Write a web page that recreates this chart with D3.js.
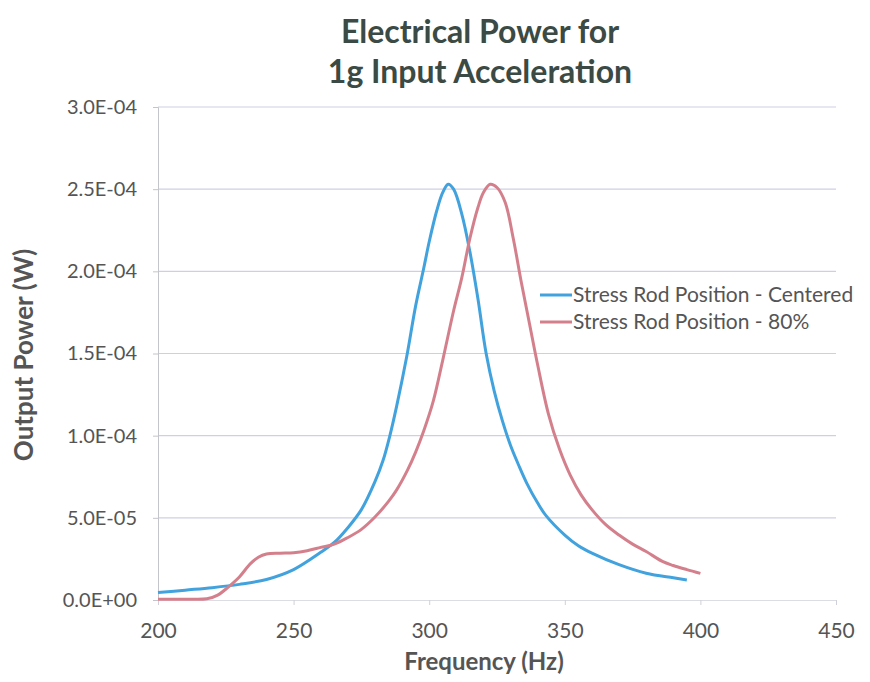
<!DOCTYPE html>
<html>
<head>
<meta charset="utf-8">
<script src="https://cdn.jsdelivr.net/npm/d3@7"></script>
<style>
  body { margin: 0; background: #fff; }
  svg { font-family: Lato, "Open Sans", sans-serif; }
</style>
</head>
<body>
<div id="chart"></div>
<script>
// values, power in units of 1e-5 W
const freqCentered = [200, 210, 220, 230, 240, 250, 260, 265, 270, 275, 280, 283, 285.5, 288, 291.7, 295, 298, 300, 302.8, 305, 307, 309, 312, 315, 318, 321, 324, 327, 330, 333, 336, 340, 343, 350, 355, 360, 370, 380, 390, 395];
const powerCentered = [0.45, 0.6, 0.75, 0.95, 1.25, 1.85, 2.9, 3.5, 4.4, 5.5, 7.2, 8.5, 10.0, 11.8, 14.8, 17.9, 20.2, 21.8, 23.7, 24.8, 25.3, 25.0, 23.5, 21.2, 18.3, 15.0, 12.7, 10.9, 9.4, 8.2, 7.1, 5.9, 5.15, 3.95, 3.3, 2.85, 2.15, 1.63, 1.35, 1.22];

const freq80 = [200, 210, 218, 222, 226, 230, 234, 237, 240, 245, 250, 255, 260, 265, 270, 275, 280, 285, 288, 292, 295, 298, 301.5, 305, 309, 312, 315, 318, 320, 322.5, 325, 328, 331, 334, 337, 340, 344, 348, 352, 356, 360, 365, 370, 375, 380, 386, 390, 395, 400];
const power80 = [0.05, 0.05, 0.07, 0.3, 0.8, 1.4, 2.2, 2.6, 2.8, 2.85, 2.88, 3.0, 3.2, 3.4, 3.8, 4.3, 5.05, 6.0, 6.7, 7.9, 9.0, 10.3, 12.1, 14.6, 17.6, 19.6, 22.0, 23.9, 24.8, 25.3, 25.1, 24.2, 22.0, 19.3, 16.8, 14.3, 11.3, 9.2, 7.6, 6.4, 5.5, 4.6, 3.95, 3.4, 2.95, 2.35, 2.1, 1.85, 1.62];

const seriesNames = ["Stress Rod Position - Centered", "Stress Rod Position - 80%"];
const seriesColors = ["#41a2dd", "#d4808c"];
const xTicks = [200, 250, 300, 350, 400, 450];
const yTicks = [0, 5e-5, 1e-4, 1.5e-4, 2e-4, 2.5e-4, 3e-4];
const yTickLabels = ["0.0E+00", "5.0E-05", "1.0E-04", "1.5E-04", "2.0E-04", "2.5E-04", "3.0E-04"];

let width = 870,
  height = 682,
  plotLeft = 158,
  plotRight = 836,
  plotTop = 107,
  plotBottom = 600;

let svg = d3.select("#chart").append("svg")
  .attr("width", width)
  .attr("height", height);

let xScale = d3.scaleLinear().domain([200, 450]).range([plotLeft, plotRight]);
let yScale = d3.scaleLinear().domain([0, 3e-4]).range([plotBottom, plotTop]);

// gridlines
svg.append("g")
  .selectAll("line")
  .data(yTicks.slice(1))
  .enter()
  .append("line")
  .attr("x1", plotLeft)
  .attr("x2", plotRight)
  .attr("y1", (d) => yScale(d))
  .attr("y2", (d) => yScale(d))
  .attr("stroke", "#cdd0e2")
  .attr("stroke-width", 1.2);

let yAxis = d3.axisLeft(yScale)
  .tickValues(yTicks)
  .tickFormat((d, i) => yTickLabels[i])
  .tickSize(5)
  .tickPadding(16);

let gy = svg.append("g")
  .attr("transform", "translate(" + plotLeft + ",0)")
  .call(yAxis);
gy.select(".domain").attr("stroke", "#c4c4cc");
gy.selectAll(".tick line").attr("stroke", "#c4c4cc");
gy.selectAll("text")
  .attr("font-size", 20)
  .attr("fill", "#555")
  .attr("font-family", "Lato, sans-serif");

let xAxis = d3.axisBottom(xScale)
  .tickValues(xTicks)
  .tickFormat(d3.format("d"))
  .tickSize(5)
  .tickPadding(18);

let gx = svg.append("g")
  .attr("transform", "translate(0," + plotBottom + ")")
  .call(xAxis);
gx.select(".domain").attr("stroke", "#dcdce4");
gx.selectAll(".tick line").attr("stroke", "#d0d0d8");
gx.selectAll("text")
  .attr("font-size", 21)
  .attr("fill", "#555")
  .attr("font-family", "Lato, sans-serif");

// curves
let line = d3.line()
  .x((d) => xScale(d[0]))
  .y((d) => yScale(d[1] * 1e-5))
  .curve(d3.curveCatmullRom.alpha(0.5));

let series = [
  d3.zip(freqCentered, powerCentered),
  d3.zip(freq80, power80)
];

svg.append("g")
  .selectAll("path")
  .data(series)
  .enter()
  .append("path")
  .attr("d", line)
  .attr("fill", "none")
  .attr("stroke", (d, i) => seriesColors[i])
  .attr("stroke-width", 3)
  .attr("stroke-linejoin", "round");

// legend
let legend = svg.append("g")
  .selectAll("g")
  .data(seriesNames)
  .enter()
  .append("g")
  .attr("transform", (d, i) => "translate(540," + (295 + i * 27) + ")");

legend.append("line")
  .attr("x1", 0)
  .attr("x2", 32)
  .attr("stroke", (d, i) => seriesColors[i])
  .attr("stroke-width", 3);

legend.append("text")
  .attr("x", 33)
  .attr("dy", "0.35em")
  .attr("font-size", 21)
  .attr("fill", "#555")
  .text((d) => d);

// titles
svg.append("text")
  .attr("x", 480)
  .attr("y", 43)
  .attr("text-anchor", "middle")
  .attr("font-size", 32)
  .attr("font-weight", "bold")
  .attr("fill", "#3b4a44")
  .text("Electrical Power for");

svg.append("text")
  .attr("x", 480)
  .attr("y", 83)
  .attr("text-anchor", "middle")
  .attr("font-size", 32)
  .attr("font-weight", "bold")
  .attr("fill", "#3b4a44")
  .text("1g Input Acceleration");

svg.append("text")
  .attr("x", 484)
  .attr("y", 670)
  .attr("text-anchor", "middle")
  .attr("font-size", 24)
  .attr("font-weight", "bold")
  .attr("fill", "#555")
  .text("Frequency (Hz)");

svg.append("text")
  .attr("transform", "translate(33,355) rotate(-90)")
  .attr("text-anchor", "middle")
  .attr("font-size", 26)
  .attr("font-weight", "bold")
  .attr("fill", "#555")
  .text("Output Power (W)");
</script>
</body>
</html>
